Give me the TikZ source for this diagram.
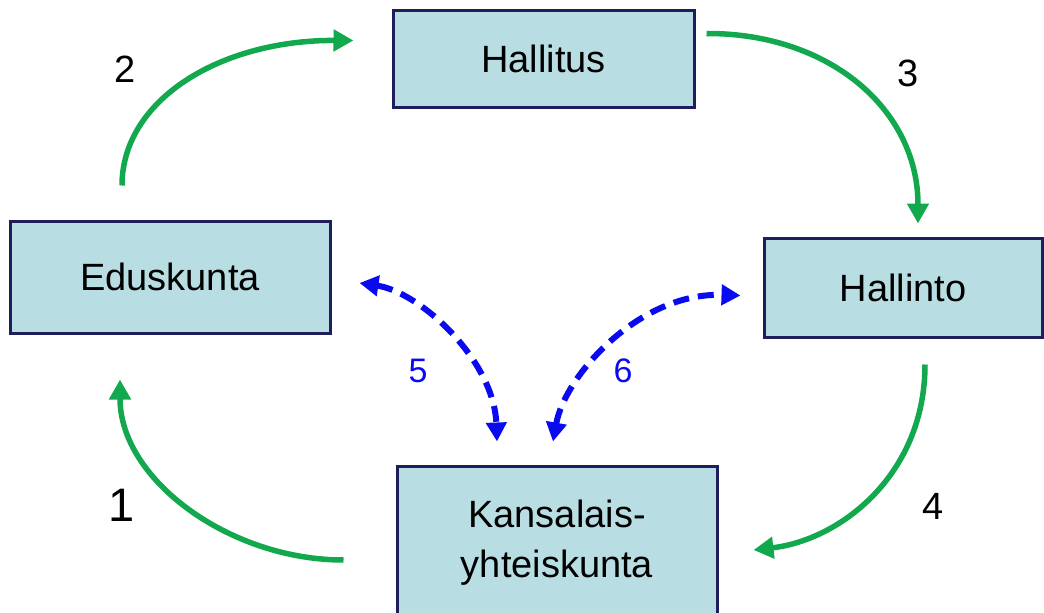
\documentclass[tikz,border=0pt]{standalone}
\usepackage{fontspec}
\setmainfont{Liberation Sans}
\usetikzlibrary{arrows.meta,calc}
\definecolor{boxfill}{HTML}{B8DEE3}
\definecolor{boxline}{HTML}{1E1E5A}
\definecolor{flowgreen}{HTML}{12A84E}
\definecolor{linkblue}{HTML}{0A0AF0}
\tikzset{
  organ/.style={draw=boxline, line width=3pt, fill=boxfill, inner sep=0pt,
    align=center, font=\fontsize{38}{50}\selectfont},
  flow/.style={draw=flowgreen, line width=5.5pt,
    -{Triangle[length=20pt,width=21pt]}},
  link/.style={draw=linkblue, line width=6pt, dash pattern=on 16pt off 9pt,
    {Triangle[length=19pt,width=20pt]}-{Triangle[length=19pt,width=20pt]}},
  stepnum/.style={font=\fontsize{38}{40}\selectfont},
  linknum/.style={text=linkblue, font=\fontsize{34}{36}\selectfont},
}
\begin{document}
\begin{tikzpicture}[x=1pt,y=1pt]
\useasboundingbox (0,0) rectangle (1044,-613);
\begin{scope}
\clip (0,0) rectangle (1044,-613);
% institutions
\node[organ, minimum width=301pt, minimum height=97pt] (hal) at (543.5,-58.5) {Hallitus};
\node[organ, minimum width=320pt, minimum height=112pt] (edu) at (170,-277) {Eduskunta};
\node[organ, minimum width=278pt, minimum height=99pt] (hin) at (903,-287.5) {Hallinto};
\node[organ, minimum width=320pt, minimum height=154pt] (kan) at (557,-543) {Kansalais-\\yhteiskunta};
\end{scope}

% main cycle
\draw[flow] ([xshift=-48pt,yshift=34pt]edu.north)
  .. controls (122,-100) and (220,-40) .. ([xshift=-38pt,yshift=18pt]hal.west);
\draw[flow] ([xshift=11pt,yshift=25pt]hal.east)
  .. controls (830,-33) and (918,-110) .. ([xshift=15pt,yshift=13pt]hin.north);
\draw[flow] ([xshift=22pt,yshift=-26pt]hin.south)
  .. controls (925,-475) and (840,-540) .. ([xshift=35pt,yshift=-7pt]kan.east);
\draw[flow] ([xshift=-52pt,yshift=-17pt]kan.west)
  .. controls (230,-560) and (120,-480) .. ([xshift=-50pt,yshift=-45pt]edu.south);

% two-way links with civil society
\draw[link] ([xshift=28pt,yshift=-6pt]edu.east)
  .. controls (420,-292) and (494,-360) .. ([xshift=-60pt,yshift=23pt]kan.north);
\draw[link] ([xshift=-4pt,yshift=23pt]kan.north)
  .. controls (565,-375) and (640,-292) .. ([xshift=-22pt,yshift=-8pt]hin.west);

% step numbers
\node[stepnum] (n2) at (125,-69) {2};
\node[stepnum] (n3) at (908,-73) {3};
\node[stepnum] (n4) at (933,-506) {4};
\node[stepnum, font=\fontsize{47}{50}\selectfont] (n1) at (122,-505) {1};
\node[linknum] (n5) at (418,-371) {5};
\node[linknum] (n6) at (623,-371) {6};
\end{tikzpicture}
\end{document}
